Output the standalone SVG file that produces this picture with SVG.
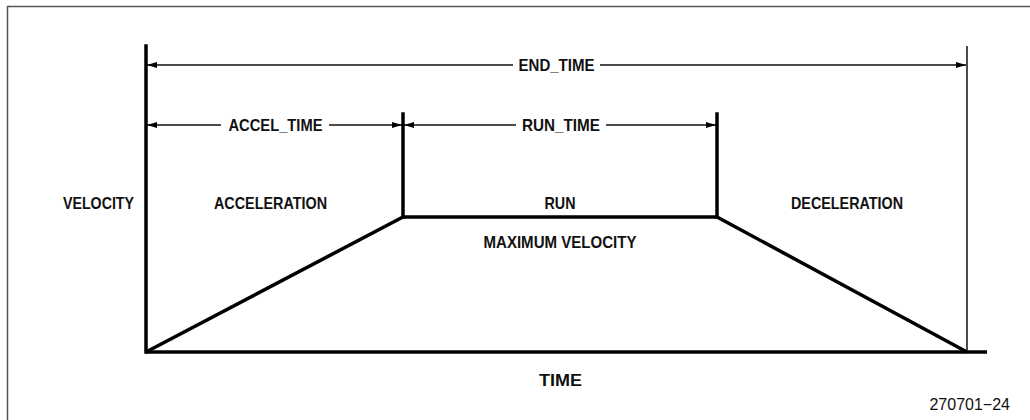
<svg xmlns="http://www.w3.org/2000/svg" width="1030" height="420" viewBox="0 0 1030 420">
<defs>
<style>
.lbl{font-family:"Liberation Sans Narrow","Liberation Sans",Arial,sans-serif;font-weight:bold;font-size:16.5px;fill:#111;text-anchor:middle}
.num{font-family:"Liberation Sans",Arial,sans-serif;font-size:16px;fill:#111;text-anchor:end}
.thick{stroke:#000;stroke-width:3.5;fill:none;stroke-linecap:square}
.dim{stroke:#111;stroke-width:1.5;fill:none}
.frame{stroke:#555;stroke-width:1.5;fill:none}
</style>
<marker id="ah" viewBox="0 0 10 6" refX="10" refY="3" markerWidth="10" markerHeight="6" markerUnits="userSpaceOnUse" orient="auto-start-reverse">
<path d="M0,0 L10,3 L0,6 Z" fill="#000"/>
</marker>
</defs>
<rect width="1030" height="420" fill="#fff"/>
<path class="frame" d="M7.5,420 V6.5 H1030"/>
<g id="connectors">
<line class="dim" x1="147" y1="65" x2="513" y2="65" marker-start="url(#ah)"/>
<line class="dim" x1="600" y1="65" x2="966" y2="65" marker-end="url(#ah)"/>
<line class="dim" x1="147" y1="125" x2="221" y2="125" marker-start="url(#ah)"/>
<line class="dim" x1="329" y1="125" x2="402" y2="125" marker-end="url(#ah)"/>
<line class="dim" x1="404" y1="125" x2="516" y2="125" marker-start="url(#ah)"/>
<line class="dim" x1="606" y1="125" x2="716" y2="125" marker-end="url(#ah)"/>
<line class="dim" x1="967" y1="46" x2="967" y2="350"/>
</g>
<g id="profile">
<line class="thick" x1="146" y1="46" x2="146" y2="352"/>
<line class="thick" x1="146" y1="352" x2="987" y2="352" style="stroke-linecap:butt"/>
<line class="thick" x1="403" y1="114" x2="403" y2="217"/>
<line class="thick" x1="717" y1="114" x2="717" y2="217"/>
<polyline class="thick" points="146,352 403,217 717,217 967,352" style="stroke-linejoin:miter;stroke-linecap:butt"/>
</g>
<g id="end_time"><text class="lbl" x="556.5" y="71" textLength="76" lengthAdjust="spacingAndGlyphs">END_TIME</text></g>
<g id="accel_time"><text class="lbl" x="275.5" y="131" textLength="94" lengthAdjust="spacingAndGlyphs">ACCEL_TIME</text></g>
<g id="run_time"><text class="lbl" x="561" y="131" textLength="78" lengthAdjust="spacingAndGlyphs">RUN_TIME</text></g>
<g id="velocity"><text class="lbl" x="98.5" y="209" textLength="71" lengthAdjust="spacingAndGlyphs">VELOCITY</text></g>
<g id="acceleration"><text class="lbl" x="270.5" y="209" textLength="113" lengthAdjust="spacingAndGlyphs">ACCELERATION</text></g>
<g id="run"><text class="lbl" x="560" y="209" textLength="31" lengthAdjust="spacingAndGlyphs">RUN</text></g>
<g id="deceleration"><text class="lbl" x="847" y="209" textLength="112" lengthAdjust="spacingAndGlyphs">DECELERATION</text></g>
<g id="max_velocity"><text class="lbl" x="560" y="248" textLength="153" lengthAdjust="spacingAndGlyphs">MAXIMUM VELOCITY</text></g>
<g id="time"><text class="lbl" x="560.5" y="386" textLength="43" lengthAdjust="spacingAndGlyphs">TIME</text></g>
<g id="fig_number"><text class="num" x="1010" y="410">270701−24</text></g>
</svg>
